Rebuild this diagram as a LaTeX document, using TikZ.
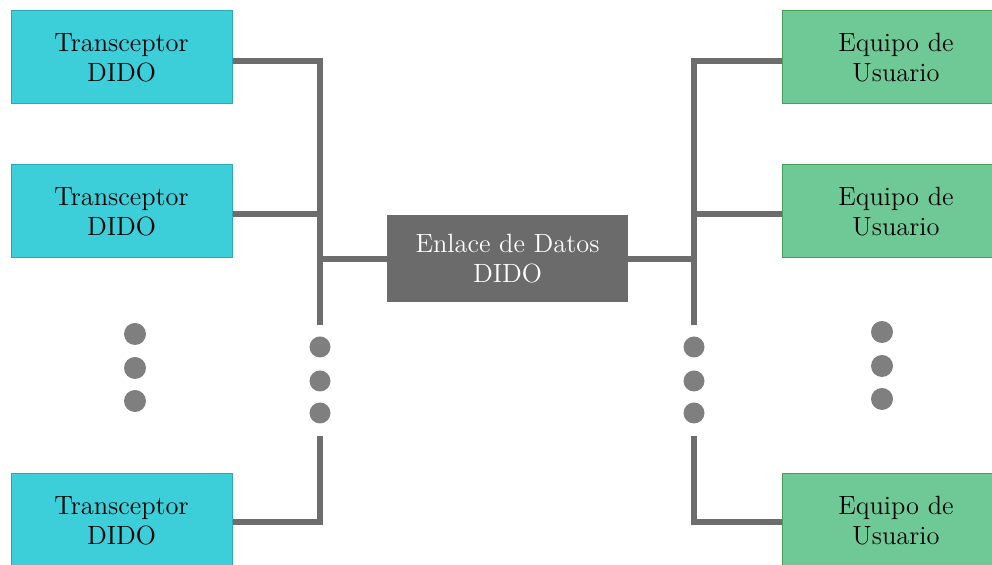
\documentclass[tikz,border=0pt]{standalone}
\definecolor{tcyan}{RGB}{61,207,217}
\definecolor{tcyanb}{RGB}{40,170,185}
\definecolor{ugreen}{RGB}{111,201,151}
\definecolor{ugreenb}{RGB}{70,160,90}
\definecolor{busgray}{RGB}{109,109,109}
\definecolor{dotgray}{RGB}{127,127,127}
\definecolor{cgray}{RGB}{107,107,107}
\begin{document}
\begin{tikzpicture}[x=0.5pt,y=-0.5pt,font=\fontsize{13.2}{15}\selectfont,
  tbox/.style={draw=tcyanb,fill=tcyan,line width=0.5pt,minimum width=110.5pt,minimum height=46.5pt,inner sep=0pt,align=center},
  ubox/.style={draw=ugreenb,fill=ugreen,line width=0.5pt,minimum width=114pt,minimum height=46.5pt,inner sep=0pt,align=center},
  cbox/.style={fill=cgray,text=white,minimum width=120.5pt,minimum height=43.5pt,inner sep=0pt,align=center},
  bus/.style={draw=busgray,line width=2.6pt,line join=miter},
  bdot/.style={circle,fill=dotgray,minimum size=10.5pt,inner sep=0pt},
  mdot/.style={circle,fill=dotgray,minimum size=11pt,inner sep=0pt}]
\useasboundingbox (0,0) rectangle (992,565);
\clip (0,0) rectangle (992,565);
% boxes
\node[tbox] (t1) at (121.5,57.5) {Transceptor\\DIDO};
\node[tbox] (t2) at (121.5,211.5) {Transceptor\\DIDO};
\node[tbox] (t3) at (121.5,520.5) {Transceptor\\DIDO};
\node[ubox] (u1) at (896,57.5) {Equipo de\\Usuario};
\node[ubox] (u2) at (896,211.5) {Equipo de\\Usuario};
\node[ubox] (u3) at (896,520.5) {Equipo de\\Usuario};
\node[cbox] (c) at (507.5,258.5) {Enlace de Datos\\DIDO};
% left bus coordinates
\coordinate (lt) at (320,61);
\coordinate (lm) at (320,214);
\coordinate (lc) at (320,259);
\coordinate (le) at (320,325);
\coordinate (lb) at (320,436);
\coordinate (lk) at (320,522);
% right bus coordinates
\coordinate (rt) at (694,61);
\coordinate (rm) at (694,214);
\coordinate (rc) at (694,259);
\coordinate (re) at (694,325);
\coordinate (rb) at (694,436);
\coordinate (rk) at (694,522);
% left bus
\draw[bus] (t1.east |- lt) -- (lt) -- (le);
\draw[bus] (t2.east |- lm) -- (lm);
\draw[bus] (lc) -- (c.west |- lc);
\draw[bus] (lb) -- (lk) -- (t3.east |- lk);
% right bus
\draw[bus] (u1.west |- rt) -- (rt) -- (re);
\draw[bus] (u2.west |- rm) -- (rm);
\draw[bus] (rc) -- (c.east |- rc);
\draw[bus] (rb) -- (rk) -- (u3.west |- rk);
% bus dots
\node[bdot] (ld1) at (320,347) {};
\node[bdot] (ld2) at (320,381) {};
\node[bdot] (ld3) at (320,413) {};
\node[bdot] (rd1) at (694,347) {};
\node[bdot] (rd2) at (694,381) {};
\node[bdot] (rd3) at (694,413) {};
% column dots
\node[mdot] (lm1) at (135,334) {};
\node[mdot] (lm2) at (135,368) {};
\node[mdot] (lm3) at (135,401) {};
\node[mdot] (rm1) at (882,332) {};
\node[mdot] (rm2) at (882,366) {};
\node[mdot] (rm3) at (882,399) {};
\end{tikzpicture}
\end{document}
